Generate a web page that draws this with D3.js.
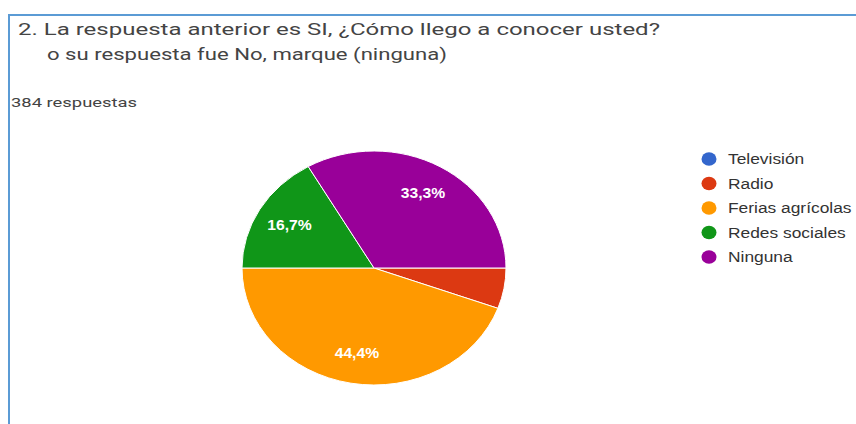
<!DOCTYPE html>
<meta charset="utf-8">
<html>
<head>
<style>
  body { margin: 0; background: #fff; }
  svg { display: block; }
</style>
</head>
<body>
<div id="chartContainer"></div>
<script src="https://cdn.jsdelivr.net/npm/d3@7"></script>
<script type="text/javascript">

  // data
  var categories = ["Televisión", "Radio", "Ferias agrícolas", "Redes sociales", "Ninguna"];
  var percents = [0, 5.6, 44.4, 16.7, 33.3];
  var sliceLabels = ["", "", "44,4%", "16,7%", "33,3%"];
  var colors = ["#3366cc", "#dc3912", "#ff9900", "#109618", "#990099"];
  var titleLines = ["2. La respuesta anterior es SI, ¿Cómo llego a conocer usted?",
                    "o su respuesta fue No, marque (ninguna)"];
  var subtitle = "384 respuestas";

  var width = 856, height = 424;
  var svg = d3.select("#chartContainer").append("svg")
    .attr("width", width)
    .attr("height", height);

  // the screenshot is a little stretched sideways
  var sx = 132 / 117;
  function stretch(sel, k) {
    sel.each(function () {
      var w = this.getComputedTextLength();
      d3.select(this).attr("textLength", w * k).attr("lengthAdjust", "spacingAndGlyphs");
    });
  }

  // blue frame (runs off the right and bottom edges)
  svg.append("path")
    .attr("d", "M9,424V15H856")
    .attr("fill", "none")
    .attr("stroke", "#5b9bd5")
    .attr("stroke-width", 2);

  // title
  svg.selectAll("title_text")
    .data(titleLines)
    .enter()
    .append("text")
    .attr("x", function (d, i) { return i == 0 ? 18 : 47; })
    .attr("y", function (d, i) { return 35 + i * 25; })
    .style("font-family", "Roboto, sans-serif")
    .style("font-size", "17px")
    .style("fill", "#444")
    .text(function (d) { return d; })
    .attr("textLength", function (d, i) { return i == 0 ? 642 : 400; })
    .attr("lengthAdjust", "spacingAndGlyphs");

  svg.append("text")
    .attr("x", 11)
    .attr("y", 107)
    .style("font-family", "Roboto, sans-serif")
    .style("font-size", "13px")
    .style("fill", "#444")
    .text(subtitle)
    .attr("textLength", 126)
    .attr("lengthAdjust", "spacingAndGlyphs");

  // pie
  var R = 117;
  var pie = d3.pie().sort(null).value(function (d) { return d; })
    .startAngle(Math.PI / 2).endAngle(Math.PI / 2 + 2 * Math.PI);
  var arcs = pie(percents);
  var arc = d3.arc().innerRadius(0).outerRadius(R);
  var labelArc = d3.arc().innerRadius(R * 0.74).outerRadius(R * 0.74);

  var g = svg.append("g").attr("transform", "translate(374,268)");
  g.append("g")
    .attr("transform", "scale(" + sx + ",1)")
    .selectAll("path")
    .data(arcs)
    .enter()
    .append("path")
    .attr("d", arc)
    .attr("fill", function (d, i) { return colors[i]; })
    .attr("stroke", "#fff")
    .attr("stroke-width", 1)
    .attr("vector-effect", "non-scaling-stroke");

  g.selectAll("slice_text")
    .data(arcs)
    .enter()
    .append("text")
    .attr("x", function (d) { return labelArc.centroid(d)[0] * sx; })
    .attr("y", function (d) { return labelArc.centroid(d)[1]; })
    .attr("dy", "0.36em")
    .attr("text-anchor", "middle")
    .style("font-family", "Liberation Sans, Arial, sans-serif")
    .style("font-size", "14px")
    .style("font-weight", "bold")
    .style("fill", "#fff")
    .text(function (d, i) { return sliceLabels[i]; })
    .call(stretch, 1.12);

  // legend
  var legend = svg.append("g").attr("transform", "translate(709,159)");
  var rows = legend.selectAll("g")
    .data(categories)
    .enter()
    .append("g")
    .attr("transform", function (d, i) { return "translate(0," + (i * 24.5) + ")"; });
  rows.append("ellipse")
    .attr("rx", 7.5)
    .attr("ry", 6.8)
    .attr("fill", function (d, i) { return colors[i]; });
  rows.append("text")
    .attr("x", 19)
    .attr("dy", "0.36em")
    .style("font-family", "Liberation Sans, Arial, sans-serif")
    .style("font-size", "14px")
    .style("fill", "#333")
    .text(function (d) { return d; })
    .call(stretch, 1.24);

</script>
</body>
</html>
